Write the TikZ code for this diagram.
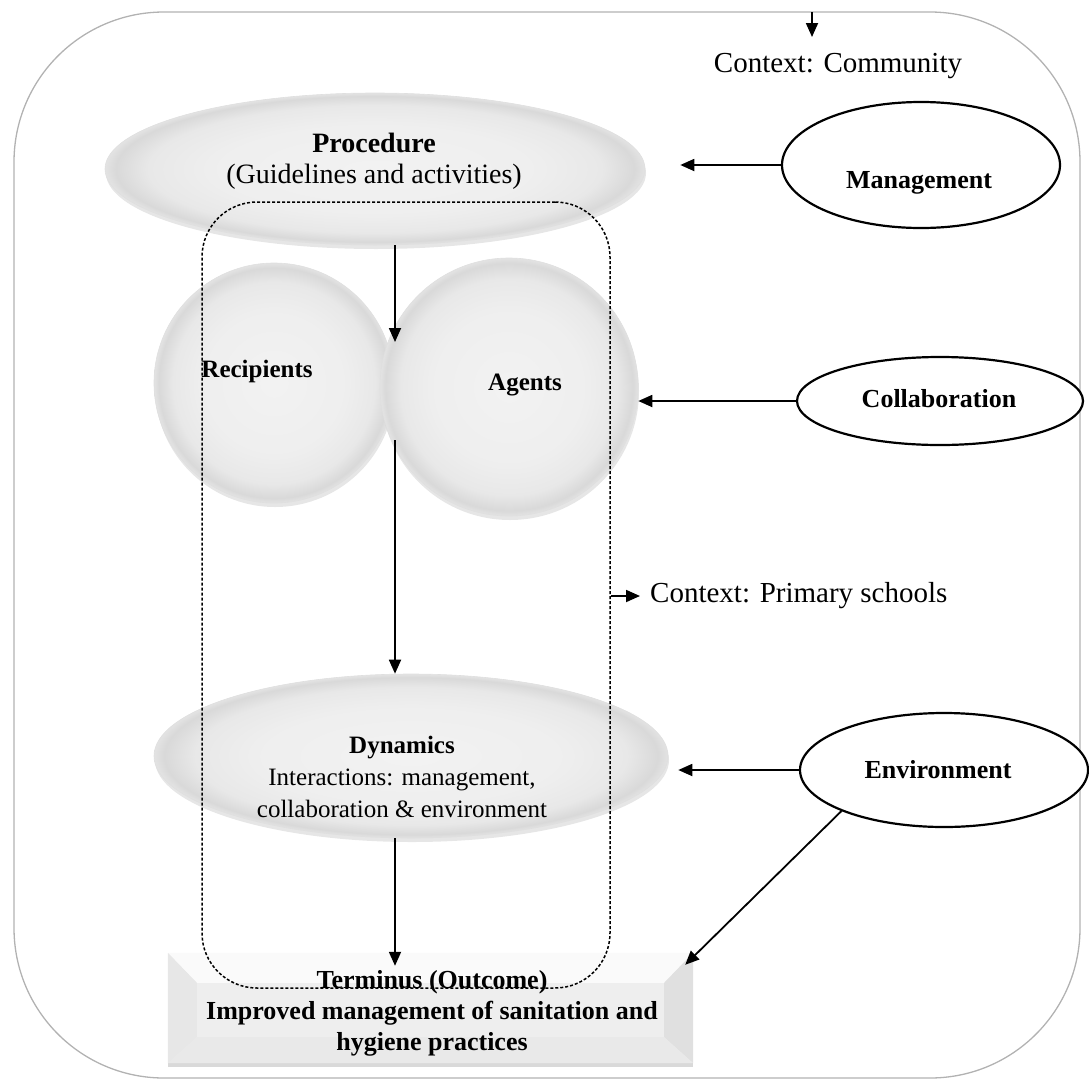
\documentclass[tikz,border=0pt]{standalone}
\usepackage{fontspec}
\setmainfont{Liberation Serif}
\usetikzlibrary{shapes.geometric,arrows.meta,shadows}

\pgfdeclareradialshading{softblob}{\pgfpoint{0bp}{0bp}}{%
  color(0bp)=(gray!10); color(15bp)=(gray!13); color(21bp)=(gray!18);
  color(24bp)=(gray!30); color(25bp)=(gray!22); color(50bp)=(gray!22)}

\begin{document}
\begin{tikzpicture}[x=1pt, y=1pt,
    blob/.style={ellipse, shading=softblob, draw=gray!25, line width=.6pt, inner sep=0pt,
        drop shadow={shadow xshift=1pt, shadow yshift=-4pt, opacity=.2}},
    oval/.style={ellipse, draw, line width=2.2pt, fill=white, inner sep=0pt},
    flow/.style={-{Triangle[length=14pt,width=12pt]}, line width=1.8pt},
    lbl/.style={font=\fontsize{26}{31}\selectfont\bfseries, inner sep=0pt},
    txt/.style={font=\fontsize{28}{31}\selectfont, align=center, inner sep=0pt},
    ctx/.style={font=\fontsize{29}{33}\selectfont, inner sep=0pt}]

    \useasboundingbox (0,0) rectangle (1089,-1084);
    \draw[gray!60, line width=1.3pt, rounded corners=150pt] (14,-12) rectangle (1080,-1078); % community

    % Procedure
    \node[blob, minimum width=540pt, minimum height=152pt] (proc) at (375,-169) {};
    \node[txt] (proctxt) at (374,-161) {\textbf{Procedure}\\(Guidelines and activities)};

    % Recipients and agents
    \node[blob, circle, minimum size=240pt] (recip) at (274,-383) {};
    \node[blob, circle, minimum size=258pt] (agents) at (509,-387) {};
    \node[lbl, font=\fontsize{25}{30}\selectfont\bfseries] (reciptxt) at (257,-371) {Recipients};
    \node[lbl, font=\fontsize{25}{30}\selectfont\bfseries] (agentstxt) at (525,-385) {Agents};

    % Dynamics
    \node[blob, minimum width=514pt, minimum height=164pt] (dyn) at (411,-756) {};
    \node[txt, font=\fontsize{25}{32}\selectfont] (dyntxt) at (402,-777)
        {\textbf{Dynamics}\\Interactions: management,\\collaboration \& environment};

    % Terminus (bevelled box)
    \node[fill=gray!13, inner sep=0pt, minimum width=525pt, minimum height=110pt,
        drop shadow={shadow xshift=0pt, shadow yshift=-4pt, opacity=.3}] (term) at (430.5,-1008) {};
    \fill[gray!4] (term.north west) -- (term.north east) -- ([shift={(-29,-30)}]term.north east) -- ([shift={(29,-30)}]term.north west) -- cycle; % top
    \fill[gray!19] (term.north west) -- ([shift={(29,-30)}]term.north west) -- ([shift={(29,26)}]term.south west) -- (term.south west) -- cycle; % left
    \fill[gray!24] (term.north east) -- ([shift={(-29,-30)}]term.north east) -- ([shift={(-29,26)}]term.south east) -- (term.south east) -- cycle; % right
    \fill[gray!17] (term.south west) -- ([shift={(29,26)}]term.south west) -- ([shift={(-29,26)}]term.south east) -- (term.south east) -- cycle; % bottom

    % Primary schools
    \node[draw, dash pattern=on 3pt off 2pt, line width=1.5pt, rounded corners=55pt,
        minimum width=408pt, minimum height=786pt] (school) at (406,-595) {};
    \node[ctx, anchor=west] (schooltxt) at (650,-596) {Context: Primary schools};
    \draw[flow, shorten >=10pt] (school.east |- schooltxt.west) -- (schooltxt.west);

    \node[lbl] (termtxt) at (432,-1013) {\begin{tabular}{@{}c@{}}Terminus (Outcome)\\Improved management of sanitation and\\hygiene practices\end{tabular}};

    % Community
    \coordinate (ctop) at (812,-12);
    \coordinate (cbot) at (812,-37);
    \draw[flow] (ctop) -- (cbot);
    \node[ctx] (commtxt) at (838,-66) {Context: Community};

    % Influences
    \node[oval, minimum width=278pt, minimum height=126pt] (mgmt) at (921,-165) {};
    \node[lbl] (mgmttxt) at (919,-183) {Management};
    \node[oval, minimum width=286pt, minimum height=88pt] (collab) at (940,-401) {};
    \node[lbl] (collabtxt) at (939,-399) {Collaboration};
    \node[oval, minimum width=288pt, minimum height=114pt] (env) at (944,-770) {};
    \node[lbl] (envtxt) at (938,-770) {Environment};

    % Flow
    \coordinate (meet) at (395,-342);
    \coordinate (pairfoot) at (395,-440);
    \draw[flow] (proc.south -| meet) -- (meet);
    \draw[flow] (pairfoot) -- (pairfoot |- dyn.north);
    \draw[flow, shorten >=-13pt] (dyn.south -| pairfoot) -- (term.north -| pairfoot);
    \draw[flow, shorten >=35pt] (mgmt.west) -- (mgmt.west -| proc.east);
    \draw[flow] (collab.west) -- (collab.west -| agents.east);
    \draw[flow, shorten >=10pt] (env.west) -- (env.west -| dyn.east);
    \draw[flow] (env.south west) -- ([shift={(-8,-12)}]term.north east);

\end{tikzpicture}
\end{document}
